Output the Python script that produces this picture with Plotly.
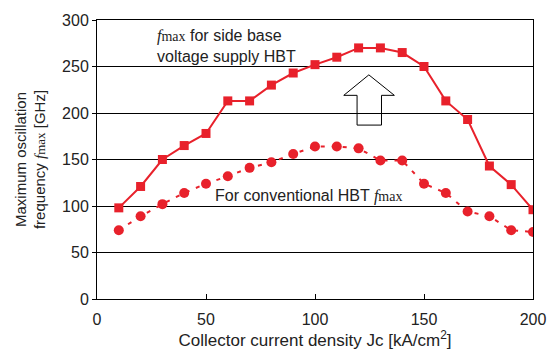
import plotly.graph_objects as go

jc = [10, 20, 30, 40, 50, 60, 70, 80, 90, 100, 110, 120, 130, 140, 150, 160, 170, 180, 190, 200]
fmax_side = [98, 121, 150, 165, 178, 213, 213, 230, 243, 252, 260, 270, 270, 265, 250, 213, 193, 143, 123, 96]
fmax_conv = [74, 89, 102, 114, 124, 132, 141, 147, 156, 164, 164, 162, 149, 149, 124, 114, 94, 89, 74, 72]

RED = "#e8212b"
def fm(size):
    return ("<span style='font-family:\"Liberation Serif\"'><i>f</i>"
            "<span style='font-size:%dpx'>max</span></span>" % size)

fig = go.Figure()
fig.add_trace(go.Scatter(x=jc, y=fmax_side, mode="lines+markers",
                         line=dict(color=RED, width=2),
                         marker=dict(symbol="square", size=9, color=RED)))
fig.add_trace(go.Scatter(x=jc, y=fmax_conv, mode="lines+markers",
                         line=dict(color=RED, width=2, dash="4px,7px"),
                         marker=dict(symbol="circle", size=10, color=RED)))

# hollow block arrow
fig.add_shape(type="path",
              path="M 119.3 187 L 119.3 219 L 113.2 219 L 124.7 241 L 136.4 219 L 130.5 219 L 130.5 187 Z",
              xref="x", yref="y", line=dict(color="black", width=1), fillcolor="white", layer="below")

fig.add_annotation(x=26.5, y=272, xref="x", yref="y", text=fm(14) + " for side base<br>voltage supply HBT",
                   showarrow=False, xanchor="left", yanchor="middle", align="left",
                   font=dict(family="Liberation Sans, Arial", size=16, color="#222"))
fig.add_annotation(x=97, y=111, xref="x", yref="y", text="For conventional HBT " + fm(14),
                   showarrow=False, xanchor="center", yanchor="middle",
                   font=dict(family="Liberation Sans, Arial", size=16, color="#222"))

fig.update_layout(
    width=558, height=355,
    margin=dict(l=97, r=20, t=18, b=55),
    paper_bgcolor="white", plot_bgcolor="white",
    showlegend=False,
    font=dict(family="Liberation Sans, Arial", size=16, color="#222"),
)
fig.update_xaxes(range=[0, 200], tickvals=[0, 50, 100, 150, 200], ticks="inside", ticklen=5,
                 tickcolor="black", showgrid=False, showline=True, linecolor="black", linewidth=1,
                 mirror=True, zeroline=False, ticklabelstandoff=6, tickfont=dict(size=16),
                 title=dict(text="Collector current density Jc [kA/cm<sup>2</sup>]", standoff=3,
                            font=dict(size=17)))
fig.update_yaxes(range=[0, 300], tickvals=[0, 50, 100, 150, 200, 250, 300], ticks="outside", ticklen=4,
                 tickcolor="black", showgrid=True, gridcolor="black", gridwidth=1, tickfont=dict(size=16),
                 showline=True, linecolor="black", linewidth=1, mirror=True, zeroline=False,
                 title=dict(text="Maximum oscillation<br>frequency " + fm(13) + " [GHz]", standoff=12,
                            font=dict(size=15)))

fig.write_html("out.html")
